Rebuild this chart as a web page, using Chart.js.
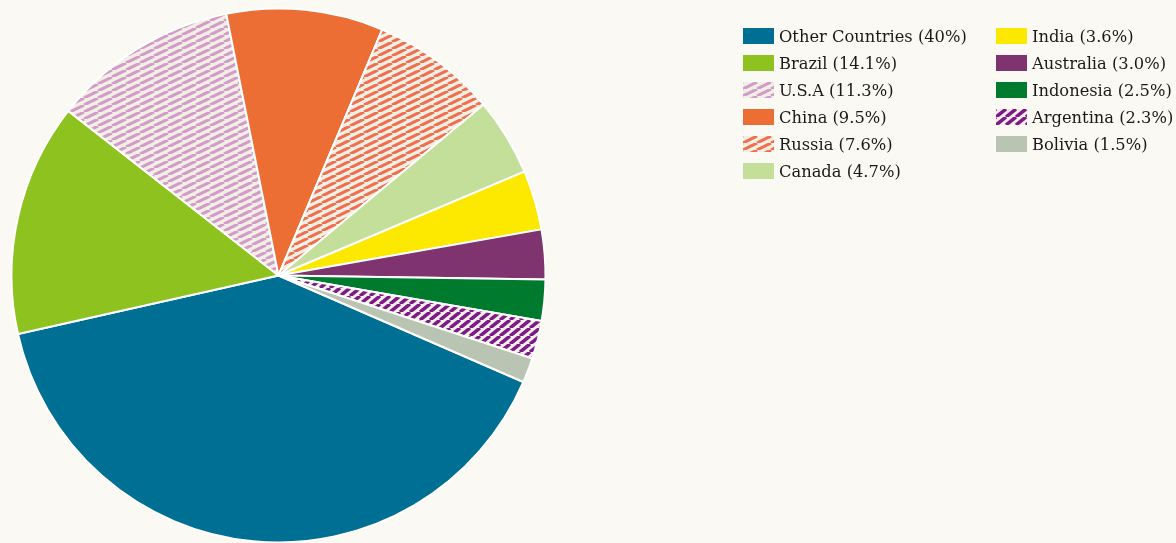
<!DOCTYPE html>
<html>
<head>
<meta charset="utf-8">
<script src="https://cdn.jsdelivr.net/npm/chart.js@4.4.1/dist/chart.umd.min.js"></script>
<style>
  html, body { margin: 0; padding: 0; background: #faf9f4; overflow: hidden; width: 1176px; height: 543px; }
  #wrap { position: relative; width: 1176px; height: 543px; }
  #pieChart { position: absolute; left: 0; top: 0; }
  #legend {
    position: absolute; left: 743px; top: 28px;
    display: grid; grid-template-rows: repeat(6, 27px); grid-auto-flow: column;
    grid-template-columns: 253px auto;
    font-family: 'DejaVu Serif', serif; font-size: 16.3px; color: #1a1a1a;
  }
  .item { display: flex; align-items: flex-start; height: 27px; }
  .item canvas { width: 31px; height: 16px; margin-right: 5px; flex: none; }
  .item span { line-height: 17px; white-space: nowrap; }
</style>
</head>
<body>
<div id="wrap">
  <canvas id="pieChart" width="557" height="551"></canvas>
  <div id="legend"></div>
</div>
<script>
const countries = ['Other Countries', 'Brazil', 'U.S.A', 'China', 'Russia', 'Canada', 'India', 'Australia', 'Indonesia', 'Argentina', 'Bolivia'];
const shares = [40, 14.1, 11.3, 9.5, 7.6, 4.7, 3.6, 3.0, 2.5, 2.3, 1.5];
const shareLabels = ['40%', '14.1%', '11.3%', '9.5%', '7.6%', '4.7%', '3.6%', '3.0%', '2.5%', '2.3%', '1.5%'];
const colors = ['#006f94', '#8dc21f', '#d39bc9', '#ec6e35', '#ef6f4f', '#c3df9a', '#fde800', '#7f3470', '#007a2c', '#7b1a88', '#b9c4b2'];
// which slices are striped instead of solid
const striped = [false, false, true, false, true, false, false, false, false, true, false];

const stripeBg = '#f2efe4';

// diagonal stripe tile, lines x/w + y/h = n
function stripeTile(fg, w, h, lw) {
  const tile = document.createElement('canvas');
  tile.width = w;
  tile.height = h;
  const c = tile.getContext('2d');
  c.fillStyle = stripeBg;
  c.fillRect(0, 0, w, h);
  c.strokeStyle = fg;
  c.lineWidth = lw;
  for (let k = -1; k <= 1; k++) {
    c.beginPath();
    c.moveTo(k * w, h);
    c.lineTo(k * w + w, 0);
    c.stroke();
  }
  return tile;
}

function tileFor(i) {
  if (countries[i] === 'Argentina') return stripeTile(colors[i], 10, 8, 3.5);
  return stripeTile(colors[i], 14, 7, 3);
}

const ctx = document.getElementById('pieChart').getContext('2d');
const fills = colors.map((col, i) => striped[i] ? ctx.createPattern(tileFor(i), 'repeat') : col);

new Chart(ctx, {
  type: 'pie',
  data: {
    labels: countries,
    datasets: [{
      data: shares,
      backgroundColor: fills,
      borderColor: '#ffffff',
      borderWidth: 2
    }]
  },
  options: {
    responsive: false,
    animation: false,
    devicePixelRatio: 1,
    rotation: 113.5,
    radius: 267,
    plugins: {
      legend: { display: false },
      tooltip: { enabled: false }
    }
  }
});

// legend in two columns
const legend = document.getElementById('legend');
countries.forEach((name, i) => {
  const item = document.createElement('div');
  item.className = 'item';
  const sw = document.createElement('canvas');
  sw.width = 31;
  sw.height = 16;
  const sc = sw.getContext('2d');
  sc.fillStyle = striped[i] ? sc.createPattern(tileFor(i), 'repeat') : colors[i];
  sc.fillRect(0, 0, 31, 16);
  const txt = document.createElement('span');
  txt.textContent = name + ' (' + shareLabels[i] + ')';
  item.appendChild(sw);
  item.appendChild(txt);
  legend.appendChild(item);
});
</script>
</body>
</html>
